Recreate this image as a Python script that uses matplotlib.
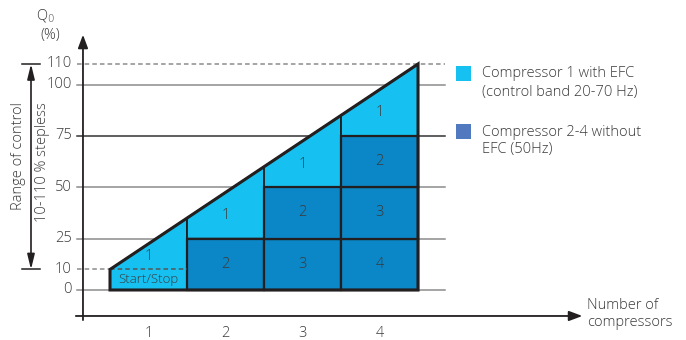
import matplotlib
matplotlib.use("Agg")
import matplotlib.pyplot as plt
from matplotlib.patches import Polygon, Rectangle

# data
n_comp = [1, 2, 3, 4]
cap_left = [10, 35, 60, 85]     # capacity at left edge of each column
cap_right = [35, 60, 85, 110]   # capacity at right edge of each column
fixed_step = 25                 # capacity of each fixed-speed compressor
start_stop = 10
grid_solid = [0, 25, 50, 75, 100]
grid_dashed = [10, 110]
ytick_vals = [0, 10, 25, 50, 75, 100, 110]

light = "#16c0f0"
dark = "#0b86c6"
legend_dark = "#5079bf"
edge = "#231f20"
txt = "#3a3a3a"

plt.rcParams['font.family'] = ['Open Sans', 'DejaVu Sans']
plt.rcParams['font.weight'] = 'light'

fig = plt.figure(figsize=(6.86, 3.40), dpi=100)
ax = fig.add_axes([0, 0, 1, 1])
ax.set_xlim(-0.9286, 7.98)
ax.set_ylim(-24.34, 141.15)
ax.axis('off')

# grid lines
for v in grid_solid:
    c = "#333333" if v == 75 else "#8c8c8c"
    ax.plot([0.07, 4.85], [v, v], color=c, lw=1.1, zorder=1)
ax.plot([0.07, 4.85], [grid_dashed[1]] * 2, color="#8c8c8c", lw=1.1, ls=(0, (3, 2)), zorder=1)
ax.plot([0.07, 0.5], [grid_dashed[0]] * 2, color="#8c8c8c", lw=1.1, ls=(0, (3, 2)), zorder=1)

# y tick labels
for v in ytick_vals:
    ax.text(0.0, v, str(v), ha='right', va='center', fontsize=10.5, color=txt)

# blocks
for i, n in enumerate(n_comp):
    x0, x1 = n - 0.5, n + 0.5
    bottom = (n - 1) * fixed_step if n > 1 else 0
    # variable-speed part
    ax.add_patch(Polygon([(x0, bottom), (x0, cap_left[i]), (x1, cap_right[i]), (x1, bottom)],
                         closed=True, fc=light, ec=edge, lw=1.3, zorder=2))
    ly = (max(bottom, start_stop if n == 1 else bottom) + (cap_left[i] + cap_right[i]) / 2) / 2
    ax.text(n, ly, "1", ha='center', va='center', fontsize=10.5, color=txt, zorder=5)
    # fixed-speed parts
    for k in range(n - 1):
        ax.add_patch(Rectangle((x0, k * fixed_step), 1, fixed_step, fc=dark, ec=edge,
                               lw=1.6, zorder=3))
        ax.text(n, k * fixed_step + fixed_step / 2, str(n - k), ha='center', va='center',
                fontsize=10.5, color=txt, zorder=5)

# start/stop box
ax.plot([0.5, 1.5], [start_stop, start_stop], color="#555555", lw=1.1, ls=(0, (3, 2)), zorder=4)
ax.text(1.0, start_stop / 2, "Start/Stop", ha='center', va='center', fontsize=9.5, color=txt, zorder=5)

# outer outline
ax.add_patch(Polygon([(0.5, 0), (0.5, cap_left[0]), (4.5, cap_right[-1]), (4.5, 0)],
                     closed=True, fill=False, ec=edge, lw=2.2, zorder=4))

# axes arrows
ax.annotate("", xy=(6.67, -12.65), xytext=(0.02, -12.65),
            arrowprops=dict(arrowstyle="-|>,head_length=0.8,head_width=0.3", color=edge, lw=1.3))
ax.annotate("", xy=(0.149, 125.6), xytext=(0.149, -16),
            arrowprops=dict(arrowstyle="-|>,head_length=0.8,head_width=0.3", color=edge, lw=1.3))

for n in n_comp:
    ax.text(n, -21, str(n), ha='center', va='center', fontsize=10.5, color=txt)

ax.text(-0.34, 133, "Q$_0$", ha='center', va='center', fontsize=10.5, color=txt)
ax.text(-0.28, 124, "(%)", ha='center', va='center', fontsize=10.5, color=txt)

ax.text(6.7, -11.7, "Number of\ncompressors", ha='left', va='center', fontsize=10.5,
        color=txt, linespacing=1.25)

# range of control arrow
ax.annotate("", xy=(-0.526, 110), xytext=(-0.526, 10),
            arrowprops=dict(arrowstyle="<|-|>,head_length=0.9,head_width=0.22", color=edge, lw=1.2,
                            shrinkA=0, shrinkB=0))
for v in (10, 110):
    ax.plot([-0.643, -0.409], [v, v], color=edge, lw=1.1)
ax.text(-0.69, 91.5, "Range of control", rotation=90, ha='center', va='top',
        fontsize=10.5, color=txt)
ax.text(-0.375, 91.5, "10-110 % stepless", rotation=90, ha='center', va='top',
        fontsize=10.5, color=txt)

# legend
ax.add_patch(Rectangle((4.99, 101.5), 0.2, 7.3, fc=light, ec='none'))
ax.text(5.33, 100.7, "Compressor 1 with EFC\n(control band 20-70 Hz)", ha='left', va='center',
        fontsize=10.5, color=txt, linespacing=1.3)
ax.add_patch(Rectangle((4.99, 73.5), 0.2, 7.3, fc=legend_dark, ec='none'))
ax.text(5.33, 72.5, "Compressor 2-4 without\nEFC (50Hz)", ha='left', va='center',
        fontsize=10.5, color=txt, linespacing=1.2)

fig.savefig("out.png", dpi=100)
